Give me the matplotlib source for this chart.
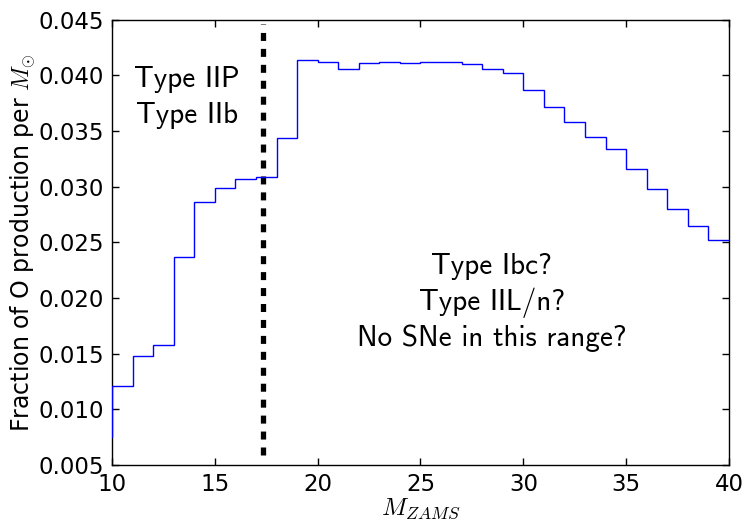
import matplotlib
matplotlib.use("Agg")
import matplotlib.pyplot as plt
import numpy as np

plt.rcParams["mathtext.fontset"] = "cm"
plt.rcParams["lines.scale_dashes"] = False

# Zero-age main sequence mass bin edges (Msun) and O production fraction per bin
mass_edges = np.arange(9, 41)
o_fraction = [
    0.0075, 0.0121, 0.0148, 0.0158, 0.0237, 0.0286, 0.0299, 0.0307, 0.0309,
    0.0344, 0.0414, 0.0412, 0.0406, 0.0411, 0.0412, 0.0411, 0.0412, 0.0412,
    0.0410, 0.0406, 0.0402, 0.0387, 0.0372, 0.0358, 0.0345, 0.0334, 0.0316,
    0.0298, 0.0280, 0.0265, 0.0252,
]
cutoff_mass = 17.35

x_ticks = [10, 15, 20, 25, 30, 35, 40]
y_ticks = [0.005, 0.010, 0.015, 0.020, 0.025, 0.030, 0.035, 0.040, 0.045]

fig = plt.figure(figsize=(7.48, 5.23), dpi=100)
ax = fig.add_axes([0.1497, 0.1109, 0.9746 - 0.1497, 0.9623 - 0.1109])

ax.stairs(o_fraction, mass_edges, baseline=None, color="b", lw=1.0,
          zorder=3)
ax.plot([cutoff_mass, cutoff_mass], [0.0059, 0.0446], color="k", lw=3.8,
        dashes=(5.76, 5.72), solid_capstyle="butt", dash_capstyle="butt")

ax.set_xlim(10, 40)
ax.set_ylim(0.005, 0.045)
ax.set_xticks(x_ticks)
ax.set_yticks(y_ticks)
ax.set_xticklabels([str(t) for t in x_ticks])
ax.set_yticklabels([f"{t:.3f}" for t in y_ticks])
ax.tick_params(direction="in", top=True, right=True, length=5, width=1,
               labelsize=16.5, pad=6)
for s in ax.spines.values():
    s.set_linewidth(1.0)

ax.set_xlabel(r"$M_{ZAMS}$", fontsize=18, labelpad=0)
ax.set_ylabel(r"Fraction of O production per $M_{\odot}$", fontsize=17,
              labelpad=0)

text_kw = dict(family="cmss10", fontsize=21, ha="center", va="center")
ax.text(13.63, 0.0396, "Type IIP", **text_kw)
ax.text(13.63, 0.0364, "Type IIb", **text_kw)
ax.text(28.47, 0.0228, "Type Ibc?", **text_kw)
ax.text(28.47, 0.0196, "Type IIL/n?", **text_kw)
ax.text(28.47, 0.0164, "No SNe in this range?", **text_kw)

fig.savefig("out.png", dpi=100)
